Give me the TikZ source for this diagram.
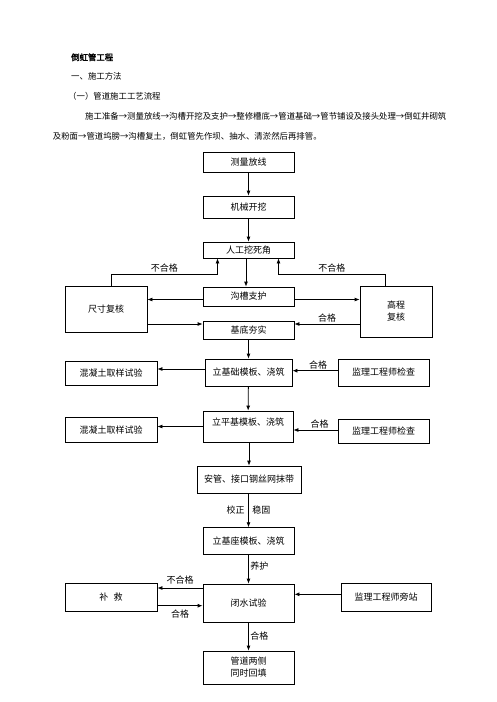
\documentclass[tikz,border=0pt]{standalone}
\usepackage{fontspec}
\newfontfamily\cjk{Noto Sans CJK SC}
\newfontfamily\cjkbold{Noto Sans CJK SC}[FakeBold=2]
\usepackage{tikz}
\usetikzlibrary{arrows.meta,positioning,calc}

\begin{document}
\begin{tikzpicture}[x=1pt,y=-1pt,
    font=\cjk\fontsize{9}{12}\selectfont,
    box/.style={draw, line width=0.8pt, inner sep=1pt, align=center},
    arr/.style={-{Latex[length=5pt,width=4pt]}, line width=0.8pt},
    lbl/.style={inner sep=1.5pt},
    txt/.style={anchor=west, inner sep=0pt, font=\cjk\fontsize{8.4}{10}\selectfont}
]
\useasboundingbox (0,0) rectangle (496,702);

\node[txt, font=\cjkbold\fontsize{8.4}{10}\selectfont] (title) at (71,57.3) {倒虹管工程};
\node[txt] (sec) at (71,76) {一、施工方法};
\node[txt] (sub) at (68,96.7) {（一）管道施工工艺流程};
\node[txt] (para1) at (85,116.7) {施工准备→测量放线→沟槽开挖及支护→整修槽底→管道基础→管节铺设及接头处理→倒虹井砌筑};
\node[txt] (para2) at (52.7,136.7) {及粉面→管道坞膀→沟槽复土，倒虹管先作坝、抽水、清淤然后再排管。};

\node[box, minimum width=91pt, minimum height=20pt] (survey) at (248.5,162) {测量放线};
\node[box, minimum width=91pt, minimum height=22pt] (excav) at (248.5,207) {机械开挖};
\node[box, minimum width=91pt, minimum height=16pt] (manual) at (248.5,250) {人工挖死角};
\node[box, minimum width=91pt, minimum height=19pt] (support) at (248.5,296.5) {沟槽支护};
\node[box, minimum width=91pt, minimum height=18pt] (tamp) at (248.5,330) {基底夯实};
\node[box, minimum width=82pt, minimum height=46pt] (sizechk) at (106,309) {尺寸复核};
\node[box, minimum width=72pt, minimum height=51pt] (elevchk) at (396,311.5) {高程\\复核};

\node[box, minimum width=87pt, minimum height=27pt] (form1) at (248.5,372.5) {立基础模板、浇筑};
\node[box, minimum width=92pt, minimum height=24pt] (test1) at (111,373) {混凝土取样试验};
\node[box, minimum width=91pt, minimum height=27pt] (insp1) at (383.5,372.5) {监理工程师检查};
\node[box, minimum width=90pt, minimum height=31pt, text depth=10.5pt] (form2) at (248,426.5) {立平基模板、浇筑};
\node[box, minimum width=92pt, minimum height=25pt] (test2) at (111,430) {混凝土取样试验};
\node[box, minimum width=91pt, minimum height=24pt] (insp2) at (383.5,431.3) {监理工程师检查};

\node[box, minimum width=104pt, minimum height=27pt] (pipe) at (249,479.5) {安管、接口钢丝网抹带};
\node[box, minimum width=91pt, minimum height=26.6pt] (seat) at (248.5,541) {立基座模板、浇筑};
\node[box, minimum width=91pt, minimum height=38pt] (water) at (248.5,603) {闭水试验};
\node[box, minimum width=92pt, minimum height=28pt] (repair) at (111,597) {补\hspace{0.6em}救};
\node[box, minimum width=90pt, minimum height=28pt] (watch) at (386,597) {监理工程师旁站};
\node[box, minimum width=91pt, minimum height=33pt] (backfill) at (248.5,667.5) {管道两侧\\同时回填};

\draw[arr] (survey) -- (excav);
\draw[arr] (excav) -- (manual);
\draw[arr] ([xshift=-2.5pt]manual.south) -- ([xshift=-2.5pt]support.north);
\draw[arr] ([xshift=5pt]sizechk.north) -- ++(0,-11) -| node[lbl, pos=0.25, above] {不合格} ([xshift=-31pt]manual.south);
\draw[arr] ([xshift=-11pt]elevchk.north) -- ++(0,-11) -| node[lbl, pos=0.25, above] {不合格} ([xshift=30pt]manual.south);
\draw[arr] ([yshift=-3pt]support.west) -- ([yshift=-3pt]support.west -| sizechk.east);
\draw[arr] ([yshift=-3pt]support.east) -- ([yshift=-3pt]support.east -| elevchk.west);
\draw[arr] ([yshift=6pt]tamp.west -| sizechk.east) -- ([yshift=6pt]tamp.west);
\draw[arr] ([yshift=6pt]tamp.east -| elevchk.west) -- node[lbl, above] {合格} ([yshift=6pt]tamp.east);

\draw[arr] (tamp) -- (form1);
\draw[arr] ([yshift=3.5pt]form1.west) -- ([yshift=3.5pt]form1.west -| test1.east);
\draw[arr] ([yshift=1.8pt]insp1.west) -- node[lbl, above, xshift=3pt] {合格} ([yshift=1.8pt]insp1.west -| form1.east);
\draw[arr] (form1) -- (form2);
\draw[arr] (form2.west) -- (form2.west -| test2.east);
\draw[arr] ([yshift=-3.5pt]form2.east -| insp2.west) -- node[lbl, above, xshift=4pt] {合格} ([yshift=-3.5pt]form2.east);

\draw[arr] (form2.south -| pipe.north) -- (pipe.north);
\draw[arr] ([xshift=-0.5pt]pipe.south) -- node[lbl, left, xshift=-2pt] {校正} node[lbl, right, xshift=2pt] {稳固} ([xshift=-0.5pt]pipe.south |- seat.north);
\draw[arr] (seat) -- node[lbl, right, pos=0.4] {养护} (water);
\draw[arr] ([yshift=15pt]water.west) -- node[lbl, above, yshift=2pt] {不合格} ([yshift=15pt]water.west -| repair.east);
\draw[arr] ([yshift=-2.7pt]water.west -| repair.east) -- node[lbl, below, yshift=-2pt] {合格} ([yshift=-2.7pt]water.west);
\draw[arr] ([yshift=8.7pt]water.east -| watch.west) -- ([yshift=8.7pt]water.east);
\draw[arr] (water) -- node[lbl, right] {合格} (backfill);
\end{tikzpicture}
\end{document}
